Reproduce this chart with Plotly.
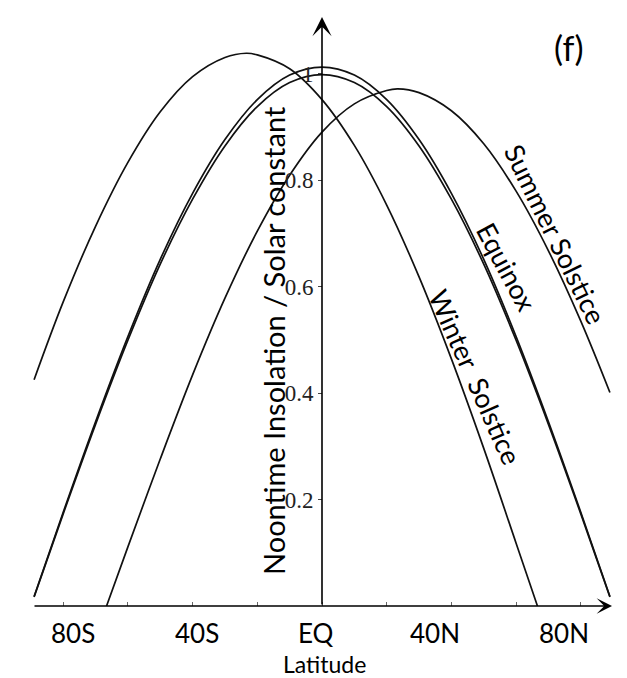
import plotly.graph_objects as go

# ---- data (latitude in degrees, + = North) ----
lat_winter = [-89, -80, -70, -60, -50, -40, -30, -23.4, -20, -10, 0, 10, 20, 30, 40, 50, 60, 66.6]
val_winter = [0.425, 0.571, 0.713, 0.833, 0.928, 0.994, 1.030, 1.038, 1.035, 1.009, 0.951, 0.865, 0.753, 0.618, 0.464, 0.296, 0.118, 0.0]

lat_summer = [-66.6, -60, -50, -40, -30, -20, -10, 0, 10, 20, 23.4, 30, 40, 50, 60, 70, 80, 89]
val_summer = [0.0, 0.111, 0.276, 0.434, 0.578, 0.704, 0.809, 0.890, 0.943, 0.968, 0.971, 0.964, 0.930, 0.868, 0.779, 0.667, 0.535, 0.401]

lat_equinox = [-89, -80, -70, -60, -50, -40, -30, -20, -10, 0, 10, 20, 30, 40, 50, 60, 70, 80, 89]
val_equinox_mar = [0.018, 0.176, 0.346, 0.506, 0.651, 0.775, 0.876, 0.951, 0.997, 1.012, 0.997, 0.951, 0.876, 0.775, 0.651, 0.506, 0.346, 0.176, 0.018]
val_equinox_sep = [0.017, 0.173, 0.341, 0.499, 0.642, 0.764, 0.864, 0.938, 0.983, 0.998, 0.983, 0.938, 0.864, 0.764, 0.642, 0.499, 0.341, 0.173, 0.017]

x_tick_labels = ["80S", "40S", "EQ", "40N", "80N"]
y_tick_vals = [0.2, 0.4, 0.6, 0.8, 1.0]
y_tick_text = ["0.2", "0.4", "0.6", "0.8", "1"]
minor_x_ticks = [-80, -60, -40, -20, 0, 20, 40, 60, 80]

# ---- layout geometry (pixel helpers) ----
W, H = 627, 678
X0PIX, PX_PER_DEG = 322.0, 3.235
Y0PIX, PX_PER_UNIT = 606.0, 532.5


def lx(px):
    return (px - X0PIX) / PX_PER_DEG


def ly(py):
    return (Y0PIX - py) / PX_PER_UNIT


def paper_x(px):
    return px / W


def paper_y(py):
    return (Y0PIX - py) / Y0PIX


fig = go.Figure()
line_style = dict(color="#111111", width=1.7, shape="spline", smoothing=1.0)
for xs, ys in [(lat_winter, val_winter), (lat_summer, val_summer),
               (lat_equinox, val_equinox_mar), (lat_equinox, val_equinox_sep)]:
    fig.add_trace(go.Scatter(x=xs, y=ys, mode="lines", line=line_style,
                             hoverinfo="skip", showlegend=False))

annotations = []
# axes drawn as arrows
annotations.append(dict(x=0, y=ly(17), ax=0, ay=0, xref="x", yref="y", axref="x", ayref="y",
                        text="", showarrow=True, arrowhead=3, arrowsize=2.0, arrowwidth=1.6,
                        arrowcolor="#000000", standoff=0))
annotations.append(dict(x=lx(612), y=0, ax=lx(33), ay=0, xref="x", yref="y", axref="x", ayref="y",
                        text="", showarrow=True, arrowhead=3, arrowsize=1.6, arrowwidth=1.6,
                        arrowcolor="#000000", standoff=0))

sans = "Lato, Open Sans, sans-serif"


def text_ann(px, py, text, size, angle=0):
    return dict(x=paper_x(px), y=paper_y(py), xref="paper", yref="paper", text=text,
                textangle=angle, showarrow=False, xanchor="center", yanchor="middle",
                font=dict(family=sans, size=size, color="#000"))


# x tick labels
for lab, px in zip(x_tick_labels, [73, 197, 316, 435, 564]):
    annotations.append(text_ann(px, 633, lab, 26))
# axis titles
annotations.append(text_ann(324, 664, "Latitude", 23))
annotations.append(text_ann(273, 341, "Noontime Insolation / Solar constant", 29, -90))
# panel label
annotations.append(text_ann(569, 48, "(f)", 34))
# curve labels
annotations.append(text_ann(556, 234, "Summer Solstice", 27, 64))
annotations.append(text_ann(507, 266, "Equinox", 27, 62))
annotations.append(text_ann(476, 377, "Winter\u00a0 Solstice", 27, 66))

fig.update_layout(
    width=W, height=H,
    margin=dict(l=0, r=0, t=0, b=H - Y0PIX, autoexpand=False),
    paper_bgcolor="white", plot_bgcolor="white",
    showlegend=False,
    xaxis=dict(range=[lx(0), lx(W)], showgrid=False, zeroline=False, showline=False,
               tickvals=minor_x_ticks, ticks="inside", ticklen=4, tickwidth=1, tickcolor="#666666",
               showticklabels=False, domain=[0, 1], automargin=False),
    yaxis=dict(range=[0, ly(0)], showgrid=False, zeroline=False, showline=False,
               anchor="free", position=X0PIX / W, automargin=False,
               tickvals=y_tick_vals, ticktext=y_tick_text, ticks="outside", ticklen=4,
               tickwidth=1, tickcolor="#444444",
               tickfont=dict(family="Liberation Serif, Times New Roman, serif", size=23, color="#222")),
    annotations=annotations,
)

fig.write_html("out.html", config={"displayModeBar": False},
               post_script="document.body.style.margin='0px';document.body.style.overflow='hidden';")
